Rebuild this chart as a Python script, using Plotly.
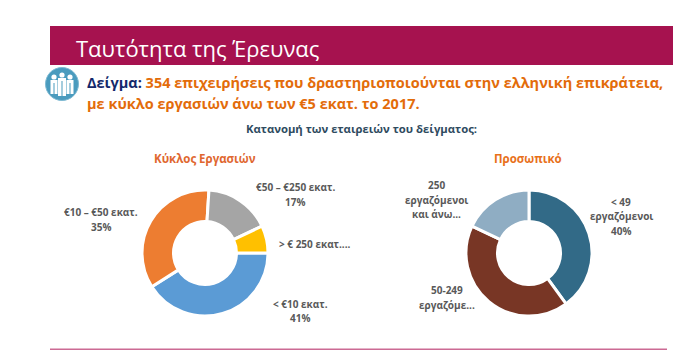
import plotly.graph_objects as go

W, H = 700, 356
FONT = "Open Sans"

revenue_labels = ["< €10 εκατ.", "€10 – €50 εκατ.", "€50 – €250 εκατ.", "> € 250 εκατ...."]
revenue_values = [41, 35, 17, 7]
revenue_colors = ["#5B9BD5", "#ED7D31", "#A5A5A5", "#FFC000"]

staff_labels = ["< 49 εργαζόμενοι", "50-249 εργαζόμε...", "250 εργαζόμενοι και άνω..."]
staff_values = [40, 42, 18]
staff_colors = ["#326A87", "#783625", "#8FADC3"]

header_text = "Ταυτότητα της Έρευνας"
sample_label = "Δείγμα:"
sample_line1 = "354 επιχειρήσεις που δραστηριοποιούνται στην ελληνική επικράτεια,"
sample_line2 = "με κύκλο εργασιών άνω των €5 εκατ. το 2017."
subtitle = "Κατανομή των εταιρειών του δείγματος:"
revenue_title = "Κύκλος Εργασιών"
staff_title = "Προσωπικό"


def px(x):
    return x / W


def py(y):
    return 1 - y / H


def domain(cx, cy, r):
    return dict(x=[px(cx - r), px(cx + r)], y=[py(cy + r), py(cy - r)])


def note(x, y, text, size, color, anchor="center", bold=True):
    return dict(
        x=px(x), y=py(y), xref="paper", yref="paper", text=f"<b>{text}</b>" if bold else text,
        showarrow=False, xanchor=anchor, yanchor="middle", align="center",
        font=dict(family=FONT, size=size, color=color),
    )


def pie(labels, values, colors, cx, cy, rotation):
    return go.Pie(
        labels=labels, values=values, sort=False, direction="clockwise", rotation=rotation,
        hole=0.5, textinfo="none", showlegend=False, domain=domain(cx, cy, 63),
        marker=dict(colors=colors, line=dict(color="white", width=3)),
    )


fig = go.Figure([
    pie(revenue_labels, revenue_values, revenue_colors, 205, 253, 90),
    pie(staff_labels, staff_values, staff_colors, 529, 253, 0),
])


def rect(x0, y0, x1, y1, color):
    return dict(type="rect", xref="paper", yref="paper", x0=px(x0), x1=px(x1), y0=py(y0), y1=py(y1),
                fillcolor=color, line=dict(width=0), layer="below")


def circle(cx, cy, r, color, line=None):
    return dict(type="circle", xref="paper", yref="paper", x0=px(cx - r), x1=px(cx + r),
                y0=py(cy + r), y1=py(cy - r), fillcolor=color,
                line=dict(width=1 if line else 0, color=line or color), layer="below")


shapes = [
    rect(50, 26, 673, 65, "#A6124F"),
    rect(50, 348.6, 667, 350, "#CC6A94"),
    circle(62, 84, 16.5, "#4A9BBE", "#7FBAD3"),
]
for cx, cy, top, bottom, w in [(54, 77, 80, 94, 3.5), (70, 77, 80, 94, 3.5), (62, 75, 78, 96, 4)]:
    shapes.append(circle(cx, cy, 2.6, "white"))
    shapes.append(rect(cx - w, top, cx + w, bottom, "white"))
    shapes.append(rect(cx - 0.5, top + 3, cx + 0.5, bottom, "#4A9BBE"))

GRAY = "#595959"
annotations = [
    note(74, 48, header_text, 22, "#FFFFFF", "left", bold=False),
    note(85, 82, f"<span style='color:#14296B'>{sample_label}</span> {sample_line1}", 14.5, "#E36C0A", "left"),
    note(85, 103, sample_line2, 14.5, "#E36C0A", "left"),
    note(361, 128, subtitle, 11.3, "#2F4B5F"),
    note(205, 159, revenue_title, 11.5, "#E0672F"),
    note(528, 159, staff_title, 11.5, "#E8701A"),
]
label_lines = [
    (295, 187, "€50 – €250 εκατ."), (295, 202, "17%"),
    (101, 212, "€10 – €50 εκατ."), (101, 227, "35%"),
    (315, 244, "> € 250 εκατ...."),
    (300, 304, "< €10 εκατ."), (300, 318, "41%"),
    (436, 185, "250"), (436, 200, "εργαζόμενοι"), (436, 214, "και άνω..."),
    (621, 202, "< 49"), (621, 216, "εργαζόμενοι"), (621, 231, "40%"),
    (447, 290, "50-249"), (447, 305, "εργαζόμε..."),
]
for x, y, line in label_lines:
    annotations.append(note(x, y, line, 10, GRAY))

fig.update_layout(
    width=W, height=H, margin=dict(l=0, r=0, t=0, b=0),
    paper_bgcolor="white", plot_bgcolor="white", font=dict(family=FONT),
    shapes=shapes, annotations=annotations,
)
fig.write_html(
    "out.html",
    config={"displayModeBar": False},
    post_script="document.body.style.margin='0';document.documentElement.style.overflow='hidden';",
)
